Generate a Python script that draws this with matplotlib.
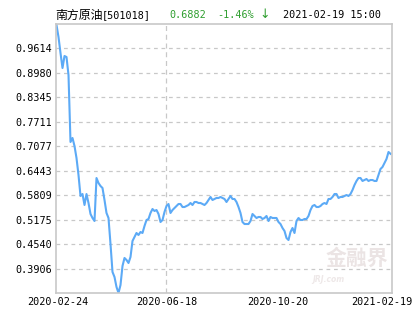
import numpy as np
import matplotlib.pyplot as plt

# net value, sampled evenly over the trading days 2020-02-24 .. 2021-02-19
nav = [1.0222, 0.9911, 0.9496, 0.9107, 0.9418, 0.9392, 0.8925, 0.7188, 0.7292, 0.7084,
       0.6773, 0.6332, 0.5788, 0.5839, 0.5554, 0.5839, 0.5606, 0.5321, 0.5217, 0.5139,
       0.6254, 0.6125, 0.6047, 0.5995, 0.5684, 0.5347, 0.5217, 0.4543, 0.3817, 0.3687,
       0.3428, 0.3272, 0.3479, 0.3972, 0.4180, 0.4128, 0.4050, 0.4206, 0.4621, 0.4724,
       0.4828, 0.4776, 0.4854, 0.4828, 0.5010, 0.5165, 0.5191, 0.5347, 0.5450, 0.5399,
       0.5424, 0.5321, 0.5113, 0.5165, 0.5373, 0.5528, 0.5580, 0.5347, 0.5424, 0.5476,
       0.5528, 0.5580, 0.5580, 0.5502, 0.5502, 0.5528, 0.5554, 0.5606, 0.5554, 0.5632,
       0.5632, 0.5606, 0.5606, 0.5580, 0.5554, 0.5606, 0.5684, 0.5762, 0.5684, 0.5710,
       0.5736, 0.5736, 0.5762, 0.5736, 0.5710, 0.5632, 0.5710, 0.5788, 0.5710, 0.5710,
       0.5632, 0.5502, 0.5347, 0.5113, 0.5061, 0.5061, 0.5061, 0.5139, 0.5321, 0.5269,
       0.5217, 0.5243, 0.5243, 0.5191, 0.5217, 0.5269, 0.5139, 0.5243, 0.5217, 0.5217,
       0.5217, 0.5113, 0.5061, 0.4958, 0.4880, 0.4698, 0.4646, 0.4854, 0.4958, 0.4828,
       0.5139, 0.5217, 0.5165, 0.5165, 0.5191, 0.5191, 0.5269, 0.5424, 0.5528, 0.5554,
       0.5502, 0.5502, 0.5528, 0.5580, 0.5606, 0.5580, 0.5710, 0.5710, 0.5762, 0.5839,
       0.5839, 0.5736, 0.5762, 0.5762, 0.5788, 0.5813, 0.5788, 0.5839, 0.5943, 0.6073,
       0.6177, 0.6254, 0.6254, 0.6177, 0.6202, 0.6228, 0.6177, 0.6202, 0.6202, 0.6177,
       0.6177, 0.6332, 0.6488, 0.6540, 0.6643, 0.6747, 0.6929, 0.6882]
yticks = [0.3906, 0.4540, 0.5175, 0.5809, 0.6443, 0.7077, 0.7711, 0.8345, 0.8980, 0.9614]
date_labels = ['2020-02-24', '2020-06-18', '2020-10-20', '2021-02-19']

n = len(nav)
x = np.arange(n)

fig = plt.figure(figsize=(4.15, 3.30), dpi=100)
ax = fig.add_axes([56/415, 1-293/330, 336/415, 269/330])

ax.plot(x, nav, color='#5caaf6', lw=1.5, solid_joinstyle='round')

ax.set_xlim(-0.25, n - 0.25)
ax.set_ylim(0.3272, 1.0248)

# labels sit at their own spots, dashed grid at thirds
ax.set_xticks([0.75, 55.25, 110.75, 162.75])
ax.set_xticklabels(date_labels)
ax.set_xticks([n / 3 - 1.25, 2 * n / 3 - 1.25], minor=True)
ax.set_yticks(yticks)
ax.set_yticklabels(['%.4f' % v for v in yticks])
ax.tick_params(which='both', length=0, labelsize=7.3, pad=3, labelcolor='black')
for lab in ax.get_xticklabels() + ax.get_yticklabels():
    lab.set_family('DejaVu Sans Mono')
ax.grid(axis='y', which='major', color='#c8c8c8', ls=(0, (3, 3)), lw=0.9)
ax.grid(axis='x', which='minor', color='#c8c8c8', ls=(0, (4, 3)), lw=0.9)
ax.grid(axis='x', which='major', visible=False)
for s in ax.spines.values():
    s.set_color('#c8c8c8')
    s.set_linewidth(1.2)

# header line
ty = 1 - 15/330
fig.text(55/415, ty, '南方原油', family='Noto Sans CJK SC', fontsize=8.6, va='center')
fig.text(102/415, ty, '[501018]', family='DejaVu Sans Mono', fontsize=7.3, va='center')
fig.text(169/415, ty, '0.6882', family='DejaVu Sans Mono', fontsize=7.3, va='center', color='#2f9e2f')
fig.text(217/415, ty, '-1.46%', family='DejaVu Sans Mono', fontsize=7.3, va='center', color='#2f9e2f')
fig.text(259/415, ty, '↓', family='DejaVu Sans', fontsize=9, va='center', color='#2f9e2f')
fig.text(283/415, ty, '2021-02-19 15:00', family='DejaVu Sans Mono', fontsize=7.3, va='center')

# faint watermark
ax.text(0.99, 0.09, '金融界', transform=ax.transAxes, ha='right', va='bottom',
        family='Noto Sans CJK SC', fontsize=15, fontweight='bold', color='#ebe4e4', zorder=0)
ax.text(0.86, 0.035, 'JRJ.com', transform=ax.transAxes, ha='right', va='bottom',
        fontsize=5.5, fontstyle='italic', fontweight='bold', color='#eee8e8', zorder=0)

fig.savefig('out.png', dpi=100)
